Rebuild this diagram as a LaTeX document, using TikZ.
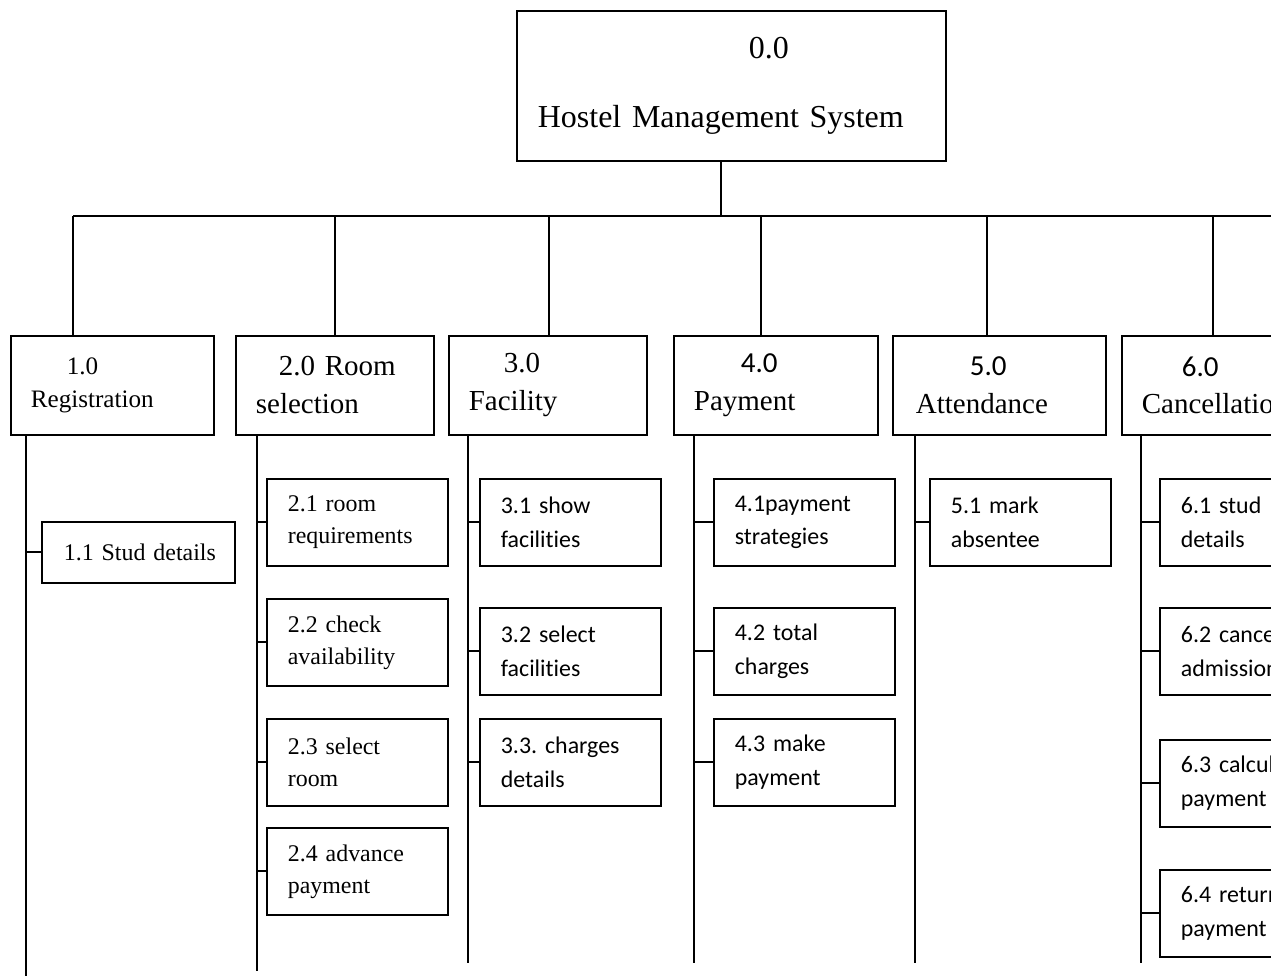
\documentclass[tikz,border=0pt]{standalone}
\usepackage{fontspec}
\setmainfont{Liberation Serif}
\newfontfamily\calibri[Ligatures=NoCommon]{Carlito}
\usetikzlibrary{positioning}
\frenchspacing

\begin{document}
\begin{tikzpicture}[x=0.02cm, y=-0.02cm, line width=1pt,
    topbox/.style={draw, rectangle, anchor=north west, minimum width=8.58cm, minimum height=3cm,
      text width=7.74cm, inner xsep=0.42cm, align=left, font=\fontsize{18.2}{21.8}\selectfont},
    mainbox/.style={draw, rectangle, anchor=north west, minimum height=1.98cm,
      inner xsep=0.4cm, align=left, font=\fontsize{16.5}{21.6}\selectfont},
    subbox/.style={draw, rectangle, anchor=north west, minimum width=3.62cm, minimum height=1.74cm,
      text width=2.78cm, inner xsep=0.42cm, align=left, font=\fontsize{13.6}{18.2}\selectfont},
    subcal/.style={subbox, font=\calibri\fontsize{13.6}{19.3}\selectfont}]
  \useasboundingbox (0,0) rectangle (1271,976);
  \clip (0,0) rectangle (1271,976);

  \node (top) [topbox] at (516,10) {\hspace*{4.22cm}0.0\\[17.5pt]Hostel Management System};

  \node (r1) [mainbox, minimum width=4.06cm, text width=3.26cm, font=\fontsize{14.3}{19.3}\selectfont]
    at (10,335) {\hspace*{0.72cm}1.0\\Registration};
  \node (r2) [mainbox, minimum width=3.96cm, text width=3.16cm] at (235,335) {\hspace*{0.46cm}2.0 Room\\selection};
  \node (r3) [mainbox, minimum width=3.96cm, text width=3.16cm] at (448,335) {\hspace*{0.7cm}3.0\\Facility};
  \node (r4) [mainbox, minimum width=4.08cm, text width=3.28cm] at (673,335) {\hspace*{0.94cm}{\calibri 4.0}\\Payment};
  \node (r5) [mainbox, minimum width=4.26cm, text width=3.34cm, inner xsep=0.46cm]
    at (892,335) {\hspace*{1.08cm}{\calibri 5.0}\\Attendance};
  \node (r6) [mainbox, minimum width=4cm, text width=3.2cm] at (1121,335) {\hspace*{0.8cm}{\calibri 6.0}\\Cancellation};

  % sub-functions
  \node (c11) [subbox, minimum width=3.86cm, minimum height=1.22cm, text width=3.26cm, inner xsep=0.3cm]
    at (41,521) {\hspace*{0.14cm}1.1 Stud details};
  \node (c21) [subbox] at (266,478) {2.1 room\\requirements};
  \node (c22) [subbox] at (266,598) {2.2 check\\availability};
  \node (c23) [subbox] at (266,718) {2.3 select\\room};
  \node (c24) [subbox] at (266,827) {2.4 advance\\payment};
  \node (c31) [subcal] at (479,478) {3.1 show\\facilities};
  \node (c32) [subcal] at (479,607) {3.2 select\\facilities};
  \node (c33) [subcal] at (479,718) {3.3. charges\\details};
  \node (c41) [subcal] at (713,478) {4.1payment\\strategies};
  \node (c42) [subcal] at (713,607) {4.2 total\\charges};
  \node (c43) [subcal] at (713,718) {4.3 make\\payment};
  \node (c51) [subcal] at (929,478) {5.1 mark\\absentee};
  \node (c61) [subcal] at (1159,478) {6.1 stud\\details};
  \node (c62) [subcal] at (1159,607) {6.2 cancel\\admission};
  \node (c63) [subcal] at (1159,739) {6.3 calculate\\payment};
  \node (c64) [subcal] at (1159,869) {6.4 return\\payment};

  % bus and drops
  \coordinate (bus) at (721,216);
  \coordinate (busend) at (1280,216);
  \coordinate (d1) at (73,216);
  \coordinate (d2) at (335,216);
  \coordinate (d3) at (549,216);
  \coordinate (d4) at (761,216);
  \coordinate (d5) at (987,216);
  \coordinate (d6) at (1213,216);
  \draw (top.south -| bus) -- (bus);
  \draw (d1) -- (busend);
  \draw (d1) -- (d1 |- r1.north);
  \draw (d2) -- (d2 |- r2.north);
  \draw (d3) -- (d3 |- r3.north);
  \draw (d4) -- (d4 |- r4.north);
  \draw (d5) -- (d5 |- r5.north);
  \draw (d6) -- (d6 |- r6.north);

  % spines
  \coordinate (e1) at (26,976);
  \coordinate (e2) at (257,971);
  \coordinate (e3) at (468,963);
  \coordinate (e4) at (694,963);
  \coordinate (e5) at (915,963);
  \coordinate (e6) at (1141,963);
  \draw (e1 |- r1.south) -- (e1);
  \draw (e2 |- r2.south) -- (e2);
  \draw (e3 |- r3.south) -- (e3);
  \draw (e4 |- r4.south) -- (e4);
  \draw (e5 |- r5.south) -- (e5);
  \draw (e6 |- r6.south) -- (e6);

  \draw (c11.west) -- (c11.west -| e1);
  \foreach \c in {c21,c22,c23,c24} \draw (\c.west) -- (\c.west -| e2);
  \foreach \c in {c31,c32,c33} \draw (\c.west) -- (\c.west -| e3);
  \foreach \c in {c41,c42,c43} \draw (\c.west) -- (\c.west -| e4);
  \draw (c51.west) -- (c51.west -| e5);
  \foreach \c in {c61,c62,c63,c64} \draw (\c.west) -- (\c.west -| e6);
\end{tikzpicture}
\end{document}
